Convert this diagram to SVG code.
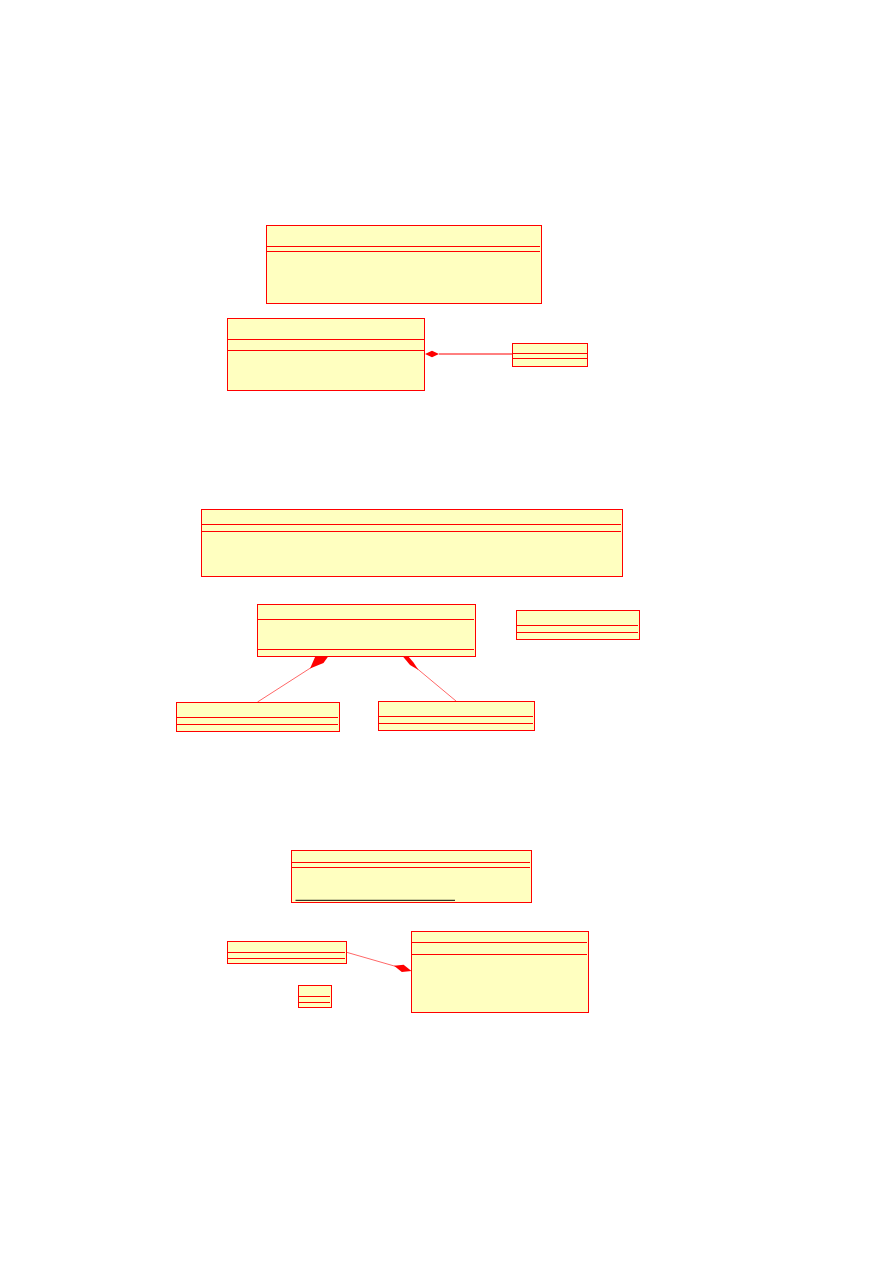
<svg xmlns="http://www.w3.org/2000/svg" width="892" height="1263" viewBox="0 0 892 1263">
<style>
.box{fill:#ffffc0;stroke:#ff0000;stroke-width:1}
.sep{stroke:#ff0000;stroke-width:1;fill:none}
.con{stroke:#ff0000;fill:none}
.dia{fill:#ff0000;stroke:none}
</style>
<rect width="892" height="1263" fill="#ffffff"/>
<g id="connectors">
<line class="con" x1="439" y1="354" x2="512.5" y2="354" stroke-width="1"/>
<polygon class="dia" points="425,354 432,350.8 439,354 432,357.2"/>
<line class="con" x1="257.5" y1="702" x2="312" y2="667" stroke-width="0.6"/>
<polygon class="dia" points="310,668.5 315.5,656 328.5,656 323.5,663"/>
<line class="con" x1="456" y1="701" x2="417" y2="668.5" stroke-width="0.6"/>
<polygon class="dia" points="418.5,670 413.5,662.5 408,656 402.5,656 410,665"/>
<line class="con" x1="346.7" y1="952.3" x2="396" y2="966.5" stroke-width="0.6"/>
<polygon class="dia" points="394,965.8 403.6,964.8 411.5,971 401.8,972"/>
</g>
<g id="nodeA">
<rect class="box" x="266.5" y="225.5" width="275" height="78"/>
<line class="sep" x1="266.5" y1="246.5" x2="540" y2="246.5"/>
<line class="sep" x1="266.5" y1="251.5" x2="540" y2="251.5"/>
</g>
<g id="nodeB">
<rect class="box" x="227.5" y="318.5" width="197" height="72"/>
<line class="sep" x1="227.5" y1="339.5" x2="424.5" y2="339.5"/>
<line class="sep" x1="227.5" y1="350.5" x2="424.5" y2="350.5"/>
</g>
<g id="nodeC">
<rect class="box" x="512.5" y="343.5" width="75" height="23"/>
<line class="sep" x1="512.5" y1="353.5" x2="587.5" y2="353.5"/>
<line class="sep" x1="512.5" y1="358.5" x2="587.5" y2="358.5"/>
</g>
<g id="nodeD">
<rect class="box" x="201.5" y="509.5" width="421" height="67"/>
<line class="sep" x1="201.5" y1="524.5" x2="621" y2="524.5"/>
<line class="sep" x1="201.5" y1="531.5" x2="621" y2="531.5"/>
</g>
<g id="nodeE">
<rect class="box" x="257.5" y="604.5" width="218" height="52"/>
<line class="sep" x1="257.5" y1="619.5" x2="474" y2="619.5"/>
<line class="sep" x1="257.5" y1="649.5" x2="474" y2="649.5"/>
</g>
<g id="nodeF">
<rect class="box" x="516.5" y="610.5" width="123" height="29"/>
<line class="sep" x1="516.5" y1="625.5" x2="638" y2="625.5"/>
<line class="sep" x1="516.5" y1="632.5" x2="638" y2="632.5"/>
</g>
<g id="nodeG">
<rect class="box" x="176.5" y="702.5" width="163" height="29"/>
<line class="sep" x1="176.5" y1="717.5" x2="338" y2="717.5"/>
<line class="sep" x1="176.5" y1="724.5" x2="338" y2="724.5"/>
</g>
<g id="nodeH">
<rect class="box" x="378.5" y="701.5" width="156" height="29"/>
<line class="sep" x1="378.5" y1="716.5" x2="533" y2="716.5"/>
<line class="sep" x1="378.5" y1="723.5" x2="533" y2="723.5"/>
</g>
<g id="nodeI">
<rect class="box" x="291.5" y="850.5" width="240" height="52"/>
<line class="sep" x1="291.5" y1="862.5" x2="530" y2="862.5"/>
<line class="sep" x1="291.5" y1="867.5" x2="530" y2="867.5"/>
<line x1="295.5" y1="900.3" x2="455" y2="900.3" stroke="#000000" stroke-width="1"/>
</g>
<g id="nodeJ">
<rect class="box" x="227.5" y="941.5" width="119" height="22"/>
<line class="sep" x1="227.5" y1="952.5" x2="345" y2="952.5"/>
<line class="sep" x1="227.5" y1="958.5" x2="345" y2="958.5"/>
</g>
<g id="nodeK">
<rect class="box" x="298.5" y="985.5" width="33" height="22"/>
<line class="sep" x1="298.5" y1="996.5" x2="330" y2="996.5"/>
<line class="sep" x1="298.5" y1="1002.5" x2="330" y2="1002.5"/>
</g>
<g id="nodeL">
<rect class="box" x="411.5" y="931.5" width="177" height="81"/>
<line class="sep" x1="411.5" y1="942.5" x2="587" y2="942.5"/>
<line class="sep" x1="411.5" y1="954.5" x2="587" y2="954.5"/>
</g>
</svg>
